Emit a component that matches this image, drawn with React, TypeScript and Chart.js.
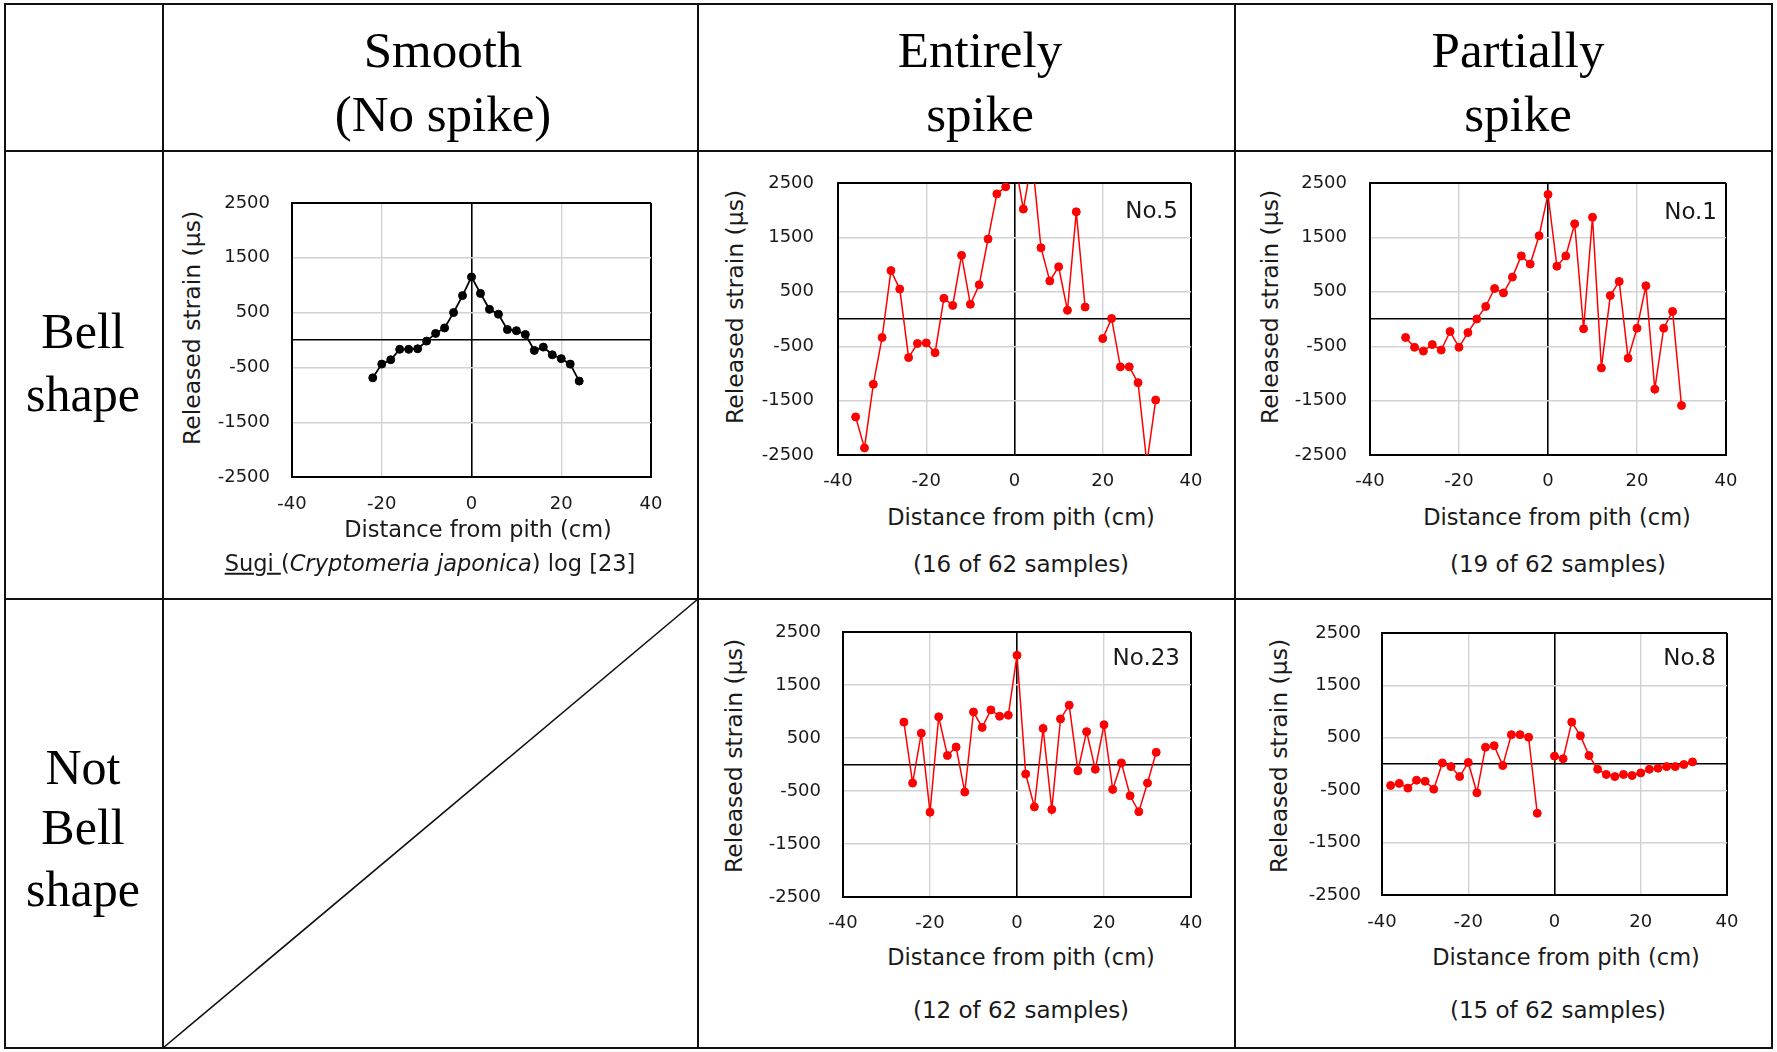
import React, { useEffect, useRef } from "react";
import { Chart, registerables } from "chart.js";

Chart.register(...registerables);

// ---------------- data ----------------
const xTickValues = [-40, -20, 0, 20, 40];
const yTickValues = [-2500, -1500, -500, 500, 1500, 2500];

const columnHeaders = [["Smooth", "(No spike)"], ["Entirely", "spike"], ["Partially", "spike"]];
const rowHeaders = [["Bell", "shape"], ["Not", "Bell", "shape"]];

const xAxisTitle = "Distance from pith (cm)";
const yAxisTitle = "Released strain (μs)";

// Smooth – Sugi log (black)
const sugiDistance = [-22, -20, -18, -16, -14, -12, -10, -8, -6, -4, -2, 0, 2, 4, 6, 8, 10, 12, 14, 16, 18, 20, 22, 24];
const sugiStrain = [-690, -440, -360, -170, -170, -160, -20, 120, 220, 500, 810, 1150, 850, 560, 470, 190, 170, 100, -190, -130, -270, -340, -440, -750];

// Entirely spike – No.5
const no5Distance = [-36, -34, -32, -30, -28, -26, -24, -22, -20, -18, -16, -14, -12, -10, -8, -6, -4, -2, 0, 2, 4, 6, 8, 10, 12, 14, 16, 18, 20, 22, 24, 26, 28, 30, 32];
const no5Strain = [-1800, -2370, -1200, -340, 890, 550, -710, -450, -440, -620, 380, 250, 1170, 270, 630, 1470, 2300, 2430, 2950, 2020, 2950, 1310, 700, 960, 160, 1970, 220, null, -360, 10, -880, -880, -1170, -2650, -1490];

// Partially spike – No.1
const no1Distance = [-32, -30, -28, -26, -24, -22, -20, -18, -16, -14, -12, -10, -8, -6, -4, -2, 0, 2, 4, 6, 8, 10, 12, 14, 16, 18, 20, 22, 24, 26, 28, 30];
const no1Strain = [-340, -520, -590, -470, -570, -230, -520, -250, 0, 230, 560, 480, 770, 1160, 1010, 1530, 2290, 970, 1160, 1750, -180, 1870, -900, 430, 690, -720, -170, 610, -1290, -170, 140, -1590];

// Not bell, entirely spike – No.23
const no23Distance = [-26, -24, -22, -20, -18, -16, -14, -12, -10, -8, -6, -4, -2, 0, 2, 4, 6, 8, 10, 12, 14, 16, 18, 20, 22, 24, 26, 28, 30, 32];
const no23Strain = [800, -350, 590, -900, 900, 170, 330, -520, 990, 700, 1030, 910, 930, 2060, -180, -800, 680, -850, 860, 1120, -120, 620, -90, 750, -470, 30, -590, -890, -350, 230];

// Not bell, partially spike – No.8
const no8Distance = [-38, -36, -34, -32, -30, -28, -26, -24, -22, -20, -18, -16, -14, -12, -10, -8, -6, -4, -2, 0, 2, 4, 6, 8, 10, 12, 14, 16, 18, 20, 22, 24, 26, 28, 30, 32];
const no8Strain = [-410, -370, -460, -310, -330, -480, 20, -50, -240, 30, -550, 320, 350, -30, 560, 560, 510, -940, null, 150, 100, 800, 540, 160, -100, -200, -240, -200, -220, -170, -100, -80, -50, -50, -10, 40];

const captions = ["(16 of 62 samples)", "(19 of 62 samples)", "(12 of 62 samples)", "(15 of 62 samples)"];
const sampleTags = ["No.5", "No.1", "No.23", "No.8"];

// ---------------- layout ----------------
const SANS = '"DejaVu Sans", Verdana, sans-serif';
const SERIF = '"Liberation Serif", "Times New Roman", serif';
const TEXT = "#1a1a1a";

type Panel = {
  key: string;
  distance: number[];
  strain: (number | null)[];
  color: string;
  lineWidth: number;
  plot: { l: number; t: number; r: number; b: number };
  yLabelGap: number;
  xLabelPad: number;
  yTitle: { x: number; y: number };
  xTitle: { x: number; y: number };
  caption: { x: number; y: number; text: string | null };
  tag: { right: number; y: number; text: string } | null;
};

const panels: Panel[] = [
  {
    key: "sugi", distance: sugiDistance, strain: sugiStrain, color: "#000000", lineWidth: 1.8,
    plot: { l: 292, t: 203, r: 651, b: 477 }, yLabelGap: 22, xLabelPad: 17,
    yTitle: { x: 193, y: 328 }, xTitle: { x: 478, y: 529 },
    caption: { x: 430, y: 563, text: null }, tag: null,
  },
  {
    key: "no5", distance: no5Distance, strain: no5Strain, color: "#ff0000", lineWidth: 1.5,
    plot: { l: 838, t: 183, r: 1191, b: 455 }, yLabelGap: 24, xLabelPad: 16,
    yTitle: { x: 736, y: 307 }, xTitle: { x: 1021, y: 517 },
    caption: { x: 1021, y: 564, text: captions[0] }, tag: { right: 1178, y: 210, text: sampleTags[0] },
  },
  {
    key: "no1", distance: no1Distance, strain: no1Strain, color: "#ff0000", lineWidth: 1.5,
    plot: { l: 1370, t: 183, r: 1726, b: 455 }, yLabelGap: 23, xLabelPad: 16,
    yTitle: { x: 1271, y: 307 }, xTitle: { x: 1557, y: 517 },
    caption: { x: 1558, y: 564, text: captions[1] }, tag: { right: 1717, y: 211, text: sampleTags[1] },
  },
  {
    key: "no23", distance: no23Distance, strain: no23Strain, color: "#ff0000", lineWidth: 1.5,
    plot: { l: 843, t: 632, r: 1191, b: 897 }, yLabelGap: 22, xLabelPad: 16,
    yTitle: { x: 735, y: 756 }, xTitle: { x: 1021, y: 957 },
    caption: { x: 1021, y: 1010, text: captions[2] }, tag: { right: 1180, y: 657, text: sampleTags[2] },
  },
  {
    key: "no8", distance: no8Distance, strain: no8Strain, color: "#ff0000", lineWidth: 1.5,
    plot: { l: 1382, t: 633, r: 1727, b: 895 }, yLabelGap: 21, xLabelPad: 17,
    yTitle: { x: 1280, y: 756 }, xTitle: { x: 1566, y: 957 },
    caption: { x: 1558, y: 1010, text: captions[3] }, tag: { right: 1716, y: 657, text: sampleTags[3] },
  },
];

const Y_AXIS_W = 80;
const X_AXIS_H = 46;
const PAD_TOP = 40;
const PAD_RIGHT = 40;

function StrainChart({ p }: { p: Panel }) {
  const ref = useRef<HTMLCanvasElement | null>(null);
  const left = p.plot.l - Y_AXIS_W;
  const top = p.plot.t - PAD_TOP;
  const width = p.plot.r - p.plot.l + Y_AXIS_W + PAD_RIGHT;
  const height = p.plot.b - p.plot.t + PAD_TOP + X_AXIS_H;

  useEffect(() => {
    if (!ref.current) return;
    const strong = (v: number, min: number, max: number) => v === 0 || v === min || v === max;
    const gridColor = (min: number, max: number) => (c: any) =>
      c.tick && strong(c.tick.value, min, max) ? "#000000" : "#d2d2d2";
    const gridWidth = (min: number, max: number) => (c: any) =>
      c.tick && (c.tick.value === min || c.tick.value === max) ? 2 : c.tick && c.tick.value === 0 ? 1.6 : 1.4;

    const chart = new Chart(ref.current, {
      type: "line",
      data: {
        datasets: [
          {
            data: p.distance.map((d, i) => ({ x: d, y: p.strain[i] })),
            borderColor: p.color,
            backgroundColor: p.color,
            pointBackgroundColor: p.color,
            pointBorderColor: p.color,
            pointRadius: 4,
            pointBorderWidth: 1,
            borderWidth: p.lineWidth,
            spanGaps: false,
            tension: 0,
            clip: 0,
          } as any,
        ],
      },
      options: {
        responsive: false,
        maintainAspectRatio: false,
        animation: false,
        devicePixelRatio: 1,
        layout: { padding: { left: 0, top: PAD_TOP, right: PAD_RIGHT, bottom: 0 } },
        plugins: { legend: { display: false }, tooltip: { enabled: false }, title: { display: false } },
        scales: {
          x: {
            type: "linear",
            min: -40,
            max: 40,
            afterBuildTicks: (s: any) => {
              s.ticks = xTickValues.map((v) => ({ value: v }));
            },
            afterFit: (s: any) => {
              s.height = X_AXIS_H;
            },
            grid: { color: gridColor(-40, 40), lineWidth: gridWidth(-40, 40), drawTicks: false },
            border: { display: true, color: "#000000", width: 2 },
            ticks: {
              autoSkip: false,
              maxRotation: 0,
              padding: p.xLabelPad,
              color: TEXT,
              font: { family: SANS, size: 18 },
              callback: (v: any) => String(v),
            },
          },
          y: {
            type: "linear",
            min: -2500,
            max: 2500,
            afterBuildTicks: (s: any) => {
              s.ticks = [...yTickValues, 0].sort((a, b) => a - b).map((v) => ({ value: v }));
            },
            afterFit: (s: any) => {
              s.width = Y_AXIS_W;
            },
            grid: { color: gridColor(-2500, 2500), lineWidth: gridWidth(-2500, 2500), drawTicks: false },
            border: { display: true, color: "#000000", width: 2 },
            ticks: {
              autoSkip: false,
              padding: p.yLabelGap,
              color: TEXT,
              font: { family: SANS, size: 18 },
              callback: (v: any) => (v === 0 ? "" : String(v)),
            },
          },
        },
      } as any,
    });
    return () => chart.destroy();
  }, [p]);

  return (
    <canvas
      ref={ref}
      width={width}
      height={height}
      style={{ position: "absolute", left, top, width, height }}
    />
  );
}

function CenteredText({ x, y, size, family, rotate, children, align }: any) {
  return (
    <div
      style={{
        position: "absolute",
        left: x,
        top: y,
        transform: `translate(${align === "right" ? "-100%" : "-50%"}, -50%)${rotate ? " rotate(-90deg)" : ""}`,
        whiteSpace: "pre",
        fontFamily: family,
        fontSize: size,
        lineHeight: 1,
        color: family === SERIF ? "#000" : TEXT,
      }}
    >
      {children}
    </div>
  );
}

function Line({ x, y, w, h }: any) {
  return <div style={{ position: "absolute", left: x, top: y, width: w, height: h, background: "#111" }} />;
}

const headerCentersX = [443, 980, 1518];
const headerLineY = [50, 114];
const rowLabelX = 83;
const rowLabelY = [[331, 394], [767, 827, 889]];

export default function App() {
  useEffect(() => {
    document.body.style.margin = "0";
    document.body.style.background = "#fff";
  }, []);

  return (
    <div style={{ position: "absolute", left: 0, top: 0, width: 1777, height: 1052, background: "#fff", overflow: "hidden" }}>
      {/* table grid */}
      <Line x={4} y={3} w={1769} h={2} />
      <Line x={4} y={150} w={1769} h={2} />
      <Line x={4} y={598} w={1769} h={2} />
      <Line x={4} y={1047} w={1769} h={2} />
      <Line x={4} y={3} w={2} h={1046} />
      <Line x={162} y={3} w={2} h={1046} />
      <Line x={697} y={3} w={2} h={1046} />
      <Line x={1234} y={3} w={2} h={1046} />
      <Line x={1771} y={3} w={2} h={1046} />
      <svg style={{ position: "absolute", left: 0, top: 0 }} width={1777} height={1052}>
        <line x1={163} y1={1048} x2={698} y2={599} stroke="#111" strokeWidth={1.6} />
      </svg>

      {/* headers */}
      {columnHeaders.map((lines, ci) =>
        lines.map((t, li) => (
          <CenteredText key={`h${ci}${li}`} x={headerCentersX[ci]} y={headerLineY[li]} size={51} family={SERIF}>
            {t}
          </CenteredText>
        ))
      )}
      {rowHeaders.map((lines, ri) =>
        lines.map((t, li) => (
          <CenteredText key={`r${ri}${li}`} x={rowLabelX} y={rowLabelY[ri][li]} size={50} family={SERIF}>
            {t}
          </CenteredText>
        ))
      )}

      {/* charts */}
      {panels.map((p) => (
        <React.Fragment key={p.key}>
          <StrainChart p={p} />
          <CenteredText x={p.yTitle.x} y={p.yTitle.y} size={23.5} family={SANS} rotate>
            {yAxisTitle}
          </CenteredText>
          <CenteredText x={p.xTitle.x} y={p.xTitle.y} size={22.5} family={SANS}>
            {xAxisTitle}
          </CenteredText>
          {p.caption.text ? (
            <CenteredText x={p.caption.x} y={p.caption.y} size={23} family={SANS}>
              {p.caption.text}
            </CenteredText>
          ) : (
            <CenteredText x={p.caption.x} y={p.caption.y} size={22.5} family={SANS}>
              <span style={{ textDecoration: "underline" }}>Sugi </span>(<i>Cryptomeria japonica</i>) log [23]
            </CenteredText>
          )}
          {p.tag && (
            <CenteredText x={p.tag.right} y={p.tag.y} size={23} family={SANS} align="right">
              {p.tag.text}
            </CenteredText>
          )}
        </React.Fragment>
      ))}
    </div>
  );
}
